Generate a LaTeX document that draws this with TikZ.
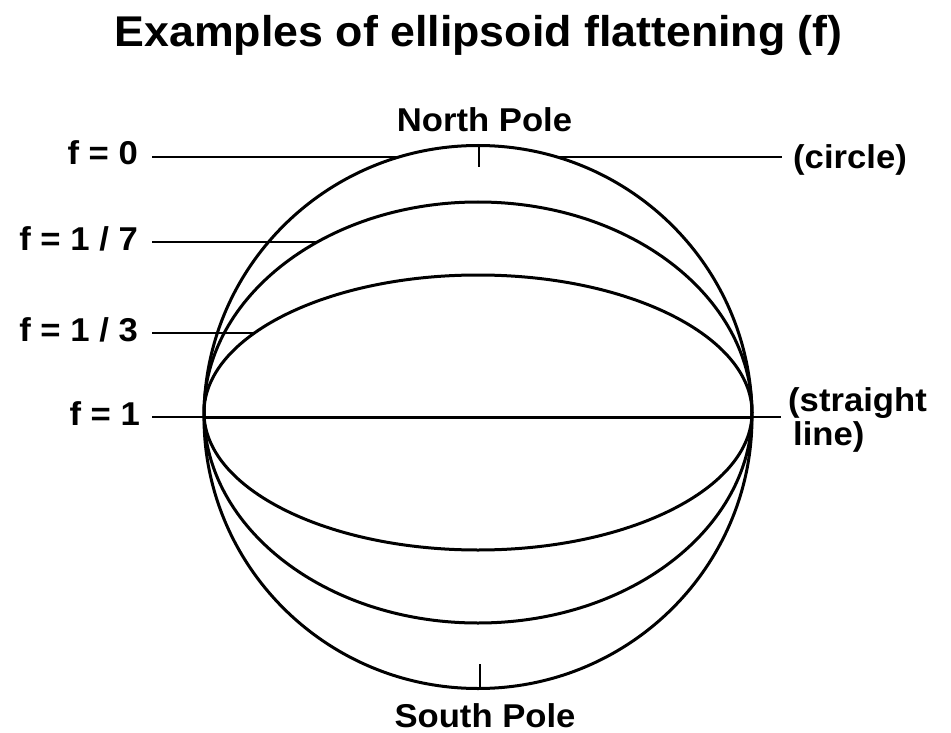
\documentclass[tikz,border=0pt]{standalone}
\usepackage{fontspec}
\setmainfont{Liberation Sans}
\newcommand\wtxt[2]{\scalebox{#1}[1]{#2}}
\begin{document}
\begin{tikzpicture}[x=1pt,y=-1pt,
  curve/.style={line width=3pt},
  leader/.style={line width=1.6pt},
  lbl/.style={font=\fontsize{33}{36}\selectfont\bfseries, inner sep=0pt},
  ttl/.style={font=\fontsize{43}{46}\selectfont\bfseries, inner sep=0pt}]
\useasboundingbox (0,0) rectangle (951,733);

% title
\node[ttl, anchor=base] (title) at (478.5,47) {\wtxt{1.04}{Examples of ellipsoid flattening (f)}};

% circle and ellipses
\draw[curve] (478,417) ellipse [x radius=274, y radius=271.5];
\draw[curve] (478,412.5) ellipse [x radius=274, y radius=210.5];
\draw[curve] (478,412.5) ellipse [x radius=274, y radius=137.5];

% pole ticks and labels
\coordinate (ntop) at (479,145.5);
\coordinate (nbot) at (479,167);
\coordinate (stop) at (480,664);
\coordinate (sbot) at (480,688);
\draw[leader] (ntop) -- (nbot);
\draw[leader] (stop) -- (sbot);
\node[lbl, anchor=base] (north) at (484.5,132) {\wtxt{1.05}{North Pole}};
\node[lbl, anchor=base] (south) at (485,727) {\wtxt{1.05}{South Pole}};

% left labels
\node[lbl, anchor=base east] (f0) at (138,165) {\wtxt{1.05}{f = 0}};
\node[lbl, anchor=base east] (f7) at (138,250) {\wtxt{1.05}{f = 1 / 7}};
\node[lbl, anchor=base east] (f3) at (138,341) {\wtxt{1.05}{f = 1 / 3}};
\node[lbl, anchor=base east] (f1) at (140,425) {\wtxt{1.05}{f = 1}};

% right labels
\node[lbl, anchor=base west] (circ) at (793,168) {\wtxt{1.05}{(circle)}};
\node[lbl, anchor=base west] (str) at (788,411) {\wtxt{1.05}{(straight}};
\node[lbl, anchor=base west] (lin) at (793,445) {\wtxt{1.05}{line)}};

% leader line end points
\coordinate (f0a) at (152,157);
\coordinate (f0b) at (399,157);
\coordinate (f0c) at (557,157);
\coordinate (f0d) at (782,157);
\coordinate (f7a) at (152,242);
\coordinate (f7b) at (317,242);
\coordinate (f3a) at (152,333);
\coordinate (f3b) at (254,333);
\coordinate (f1a) at (152,417);
\coordinate (f1l) at (204,417);
\coordinate (f1r) at (752,417);
\coordinate (f1d) at (781,417);

\draw[leader] (f0a) -- (f0b);
\draw[leader] (f0c) -- (f0d);
\draw[leader] (f7a) -- (f7b);
\draw[leader] (f3a) -- (f3b);
\draw[leader] (f1a) -- (f1l);
\draw[curve] (f1l) -- (f1r);
\draw[leader] (f1r) -- (f1d);
\end{tikzpicture}
\end{document}
